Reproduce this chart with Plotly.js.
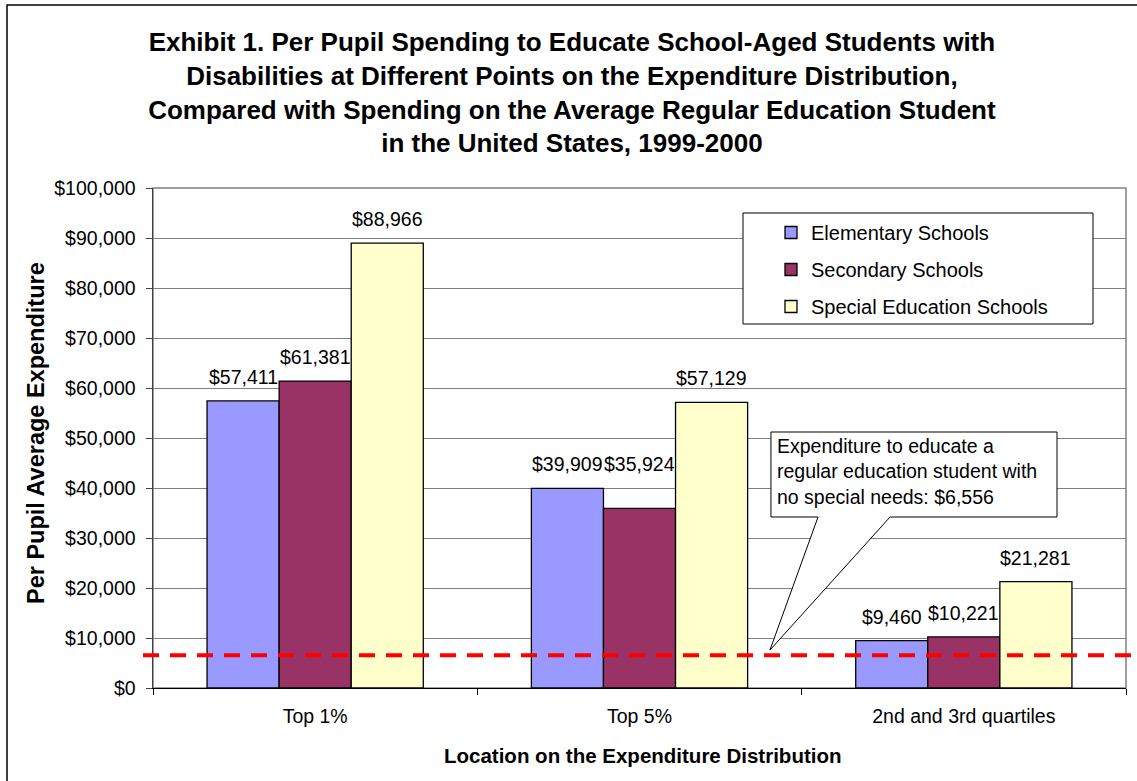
<!DOCTYPE html>
<html>
<head>
<meta charset="utf-8">
<script src="https://cdn.plot.ly/plotly-3.0.1.min.js"></script>
<style>
  html, body { margin: 0; padding: 0; background: #ffffff; }
  #chart { width: 1137px; height: 781px; }
</style>
</head>
<body>
<div id="chart"></div>
<script>
// ---- data ----
const categories = ["Top 1%", "Top 5%", "2nd and 3rd quartiles"];
const seriesNames = ["Elementary Schools", "Secondary Schools", "Special Education Schools"];
const elementary = [57411, 39909, 9460];
const secondary = [61381, 35924, 10221];
const specialEd = [88966, 57129, 21281];
const regularStudent = 6556;
const yTickValues = [0, 10000, 20000, 30000, 40000, 50000, 60000, 70000, 80000, 90000, 100000];

const seriesValues = [elementary, secondary, specialEd];
const colors = ["#9999FF", "#993366", "#FFFFCC"];
const FONT = "Liberation Sans, Arial, sans-serif";

const traces = seriesValues.map((vals, i) => ({
  type: "bar",
  name: seriesNames[i],
  x: categories,
  y: vals,
  legendgroup: "g" + i,
  marker: { color: colors[i], line: { color: "#000000", width: 1.3 } },
  hoverinfo: "x+y+name"
}));

// value labels above each bar, positioned from the data
const barPx = 72;
const extraLift = { "1-1": 20 }; // label moved up in the original to avoid overlap
const labelAnnots = [];
seriesValues.forEach((vals, i) => {
  vals.forEach((v, j) => {
    labelAnnots.push({
      xref: "x", yref: "y", x: categories[j], y: v,
      xshift: (i - 1) * barPx, yshift: 11 + (extraLift[i + "-" + j] || 0),
      xanchor: "center", yanchor: "bottom",
      text: "$" + v.toLocaleString("en-US"),
      showarrow: false,
      font: { family: FONT, size: 19.5, color: "#000000" }
    });
  });
});

const L = 153, R = 1126, T = 188, B = 688;
const W = R - L, H = B - T;
const px = x => (x - L) / W;
const py = y => (B - y) / H;

const callPath = "M " + [
  [771, 432], [1057, 432], [1057, 517], [890, 517], [770, 650], [818, 517], [771, 517]
].map(p => px(p[0]).toFixed(4) + "," + py(p[1]).toFixed(4)).join(" L ") + " Z";

const layout = {
  width: 1137, height: 781,
  paper_bgcolor: "#ffffff", plot_bgcolor: "#ffffff",
  margin: { l: L, r: 1137 - R, t: T, b: 781 - B, pad: 0 },
  font: { family: FONT, size: 19, color: "#000000" },
  title: {
    text: "<b>Exhibit 1. Per Pupil Spending to Educate School-Aged Students with<br>Disabilities at Different Points on the Expenditure Distribution,<br>Compared with Spending on the Average Regular Education Student<br>in the United States, 1999-2000</b>",
    font: { family: FONT, size: 26, color: "#000000" },
    x: 0.503, xref: "container", xanchor: "center",
    y: 1 - 51 / 781, yref: "container", yanchor: "middle"
  },
  barmode: "group",
  bargap: 0.3333,
  bargroupgap: 0,
  xaxis: {
    type: "category",
    range: [-0.5, 2.5],
    showgrid: false,
    showline: true, linecolor: "#000000", linewidth: 1,
    ticks: "outside", tickson: "boundaries", ticklen: 6, tickcolor: "#000000",
    ticklabelstandoff: 11,
    tickfont: { family: FONT, size: 19.5, color: "#000000" },
    zeroline: false, fixedrange: true
  },
  yaxis: {
    range: [0, 100000],
    tickvals: yTickValues,
    tickformat: "$,.0f",
    showgrid: true, gridcolor: "#808080", gridwidth: 1,
    showline: true, linecolor: "#404040", linewidth: 1.5,
    ticks: "outside", ticklen: 6, tickcolor: "#404040",
    ticklabelstandoff: 6,
    tickfont: { family: FONT, size: 19.5, color: "#000000" },
    zeroline: false, fixedrange: true
  },
  showlegend: true,
  legend: {
    x: px(771), y: py(213), xanchor: "left", yanchor: "top",
    bgcolor: "rgba(0,0,0,0)", borderwidth: 0,
    font: { family: FONT, size: 20, color: "#000000" },
    tracegroupgap: 8,
    traceorder: "grouped"
  },
  shapes: [
    // outer chart border
    { type: "rect", xref: "paper", yref: "paper", x0: px(7), x1: px(1150), y0: py(800), y1: py(5),
      line: { color: "#000000", width: 1.5 }, fillcolor: "rgba(0,0,0,0)", layer: "below" },
    // plot area border
    { type: "rect", xref: "paper", yref: "paper", x0: 0, x1: 1, y0: 0, y1: 1,
      line: { color: "#808080", width: 1.5 }, fillcolor: "rgba(0,0,0,0)", layer: "below" },
    // legend box
    { type: "rect", xref: "paper", yref: "paper", x0: px(743), x1: px(1093), y0: py(324), y1: py(213),
      line: { color: "#000000", width: 1 }, fillcolor: "#ffffff", layer: "above" },
    // regular education spending line
    { type: "line", xref: "paper", yref: "y", x0: px(143), x1: px(1137), y0: regularStudent, y1: regularStudent,
      line: { color: "#FF0000", width: 4, dash: "16px,11px" } },
    // callout box
    { type: "path", xref: "paper", yref: "paper", path: callPath,
      fillcolor: "#ffffff", line: { color: "#000000", width: 1 } }
  ],
  annotations: labelAnnots.concat([
    { xref: "paper", yref: "paper", x: px(775), y: py(432), xanchor: "left", yanchor: "top",
      yshift: -1, align: "left", showarrow: false,
      text: "Expenditure to educate a<br>regular education student with<br>no special needs: $" + regularStudent.toLocaleString("en-US"),
      font: { family: FONT, size: 19.5, color: "#000000" } },
    { xref: "paper", yref: "paper", x: px(36), y: py(433), xanchor: "center", yanchor: "middle",
      textangle: -90, showarrow: false,
      text: "<b>Per Pupil Average Expenditure</b>",
      font: { family: FONT, size: 23.5, color: "#000000" } },
    { xref: "paper", yref: "paper", x: px(642), y: py(755), xanchor: "center", yanchor: "middle",
      showarrow: false,
      text: "<b>Location on the Expenditure Distribution</b>",
      font: { family: FONT, size: 20.5, color: "#000000" } }
  ])
};

Plotly.newPlot("chart", traces, layout, { displayModeBar: false, staticPlot: true });
</script>
</body>
</html>
